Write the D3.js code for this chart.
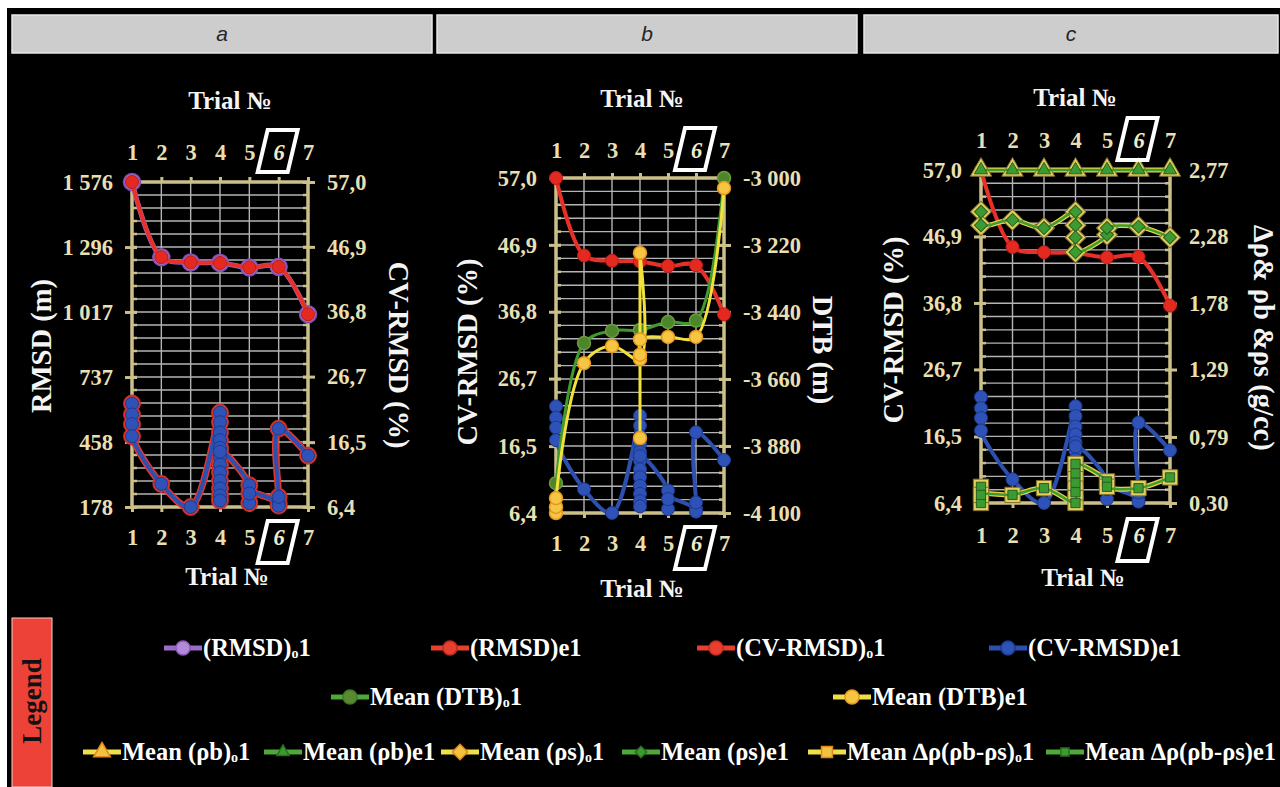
<!DOCTYPE html>
<html>
<head>
<meta charset="utf-8">
<script src="https://cdn.jsdelivr.net/npm/d3@7"></script>
<style>
  html, body { margin: 0; padding: 0; background: #fff; }
  svg { display: block; }
</style>
</head>
<body>
<svg id="chart" width="1280" height="787"></svg>
<script>
// ---------------- data ----------------
const trials = [1, 2, 3, 4, 5, 6, 7];
const highlightTrial = 6;
const panelNames = ["a", "b", "c"];

// axis tick values
const rmsdTicks = [178, 458, 737, 1017, 1296, 1576];
const cvTicks = [6.4, 16.5, 26.7, 36.8, 46.9, 57.0];
const dtbTicks = [-4100, -3880, -3660, -3440, -3220, -3000];
const rhoTicks = [0.30, 0.79, 1.29, 1.78, 2.28, 2.77];

// o1 series: one value per trial
const rmsdO1 = [1576, 1252, 1230, 1228, 1208, 1211, 1007];
const cvO1 = [57.0, 45.3, 44.5, 44.4, 43.7, 43.8, 36.4];
const dtbO1 = [-4002, -3542, -3502, -3499, -3473, -3468, -3000];

// e1 RMSD / CV-RMSD: several runs per trial, in plotting order
const rmsdE1Trials = [1, 1, 1, 1, 2, 3, 4, 4, 4, 4, 4, 4, 4, 4, 4, 4, 4, 4, 4, 5, 5, 5, 6, 6, 6, 6, 7];
const cvE1 = [22.5, 20.8, 19.3, 17.4, 10.0, 6.4, 21.1, 19.6, 18.0, 16.8, 15.6, 14.3, 13.0, 11.8, 10.5, 9.3, 8.2, 7.4, 15.0, 9.8, 7.0, 8.5, 7.0, 6.6, 8.0, 18.6, 14.4];
const rmsdE1 = [623, 576, 534, 482, 277, 178, 584, 543, 498, 465, 432, 396, 360, 327, 291, 258, 228, 206, 416, 272, 195, 236, 195, 184, 222, 515, 399];

// e1 mean depth to basement
const dtbE1Trials = [1, 1, 1, 2, 3, 4, 4, 4, 4, 4, 5, 6, 7];
const dtbE1 = [-4100, -4080, -4051, -3608, -3552, -3595, -3246, -3854, -3580, -3530, -3522, -3522, -3033];

// densities, g/cc
const rhoBO1 = [2.77, 2.77, 2.77, 2.77, 2.77, 2.77, 2.77];
const rhoBE1 = [2.77, 2.77, 2.77, 2.77, 2.77, 2.77, 2.77];
const rhoSTrials = [1, 1, 2, 3, 4, 4, 4, 4, 5, 5, 6, 7];
const rhoSO1 = [2.46, 2.36, 2.40, 2.34, 2.46, 2.36, 2.27, 2.16, 2.29, 2.34, 2.35, 2.27];
const rhoSE1 = [2.46, 2.36, 2.40, 2.34, 2.46, 2.36, 2.27, 2.16, 2.29, 2.34, 2.35, 2.27];
const dRhoTrials = [1, 1, 1, 2, 3, 4, 4, 4, 4, 4, 5, 5, 6, 7];
const dRhoO1 = [0.42, 0.30, 0.36, 0.36, 0.41, 0.30, 0.38, 0.45, 0.52, 0.59, 0.46, 0.42, 0.41, 0.49];
const dRhoE1 = [0.42, 0.30, 0.36, 0.36, 0.41, 0.30, 0.38, 0.45, 0.52, 0.59, 0.46, 0.42, 0.41, 0.49];

// legend entries: [label, subscript, tail]
const legendRows = [
  ["rmsdO1", "rmsdE1", "cvO1", "cvE1"],
  ["dtbO1", "dtbE1"],
  ["rhoBO1", "rhoBE1", "rhoSO1", "rhoSE1", "dRhoO1", "dRhoE1"]
];
const legendLabels = {
  rmsdO1: ["(RMSD)", "o", "1"],
  rmsdE1: ["(RMSD)e1"],
  cvO1: ["(CV-RMSD)", "o", "1"],
  cvE1: ["(CV-RMSD)e1"],
  dtbO1: ["Mean (DTB)", "o", "1"],
  dtbE1: ["Mean (DTB)e1"],
  rhoBO1: ["Mean (ρb)", "o", "1"],
  rhoBE1: ["Mean (ρb)e1"],
  rhoSO1: ["Mean (ρs)", "o", "1"],
  rhoSE1: ["Mean (ρs)e1"],
  dRhoO1: ["Mean ∆ρ(ρb-ρs)", "o", "1"],
  dRhoE1: ["Mean ∆ρ(ρb-ρs)e1"]
};

// ---------------- styles ----------------
const SERIF = "'Liberation Serif','Times New Roman',serif";
const FRAME = "#cbbf8a";
const TICK_TXT = "#e8dfb2";
const GRID = "#b4b4b4";

const styles = {
  rmsdO1: { line: "#9c6cc6", lw: 5, shape: "circle", size: 8.5, fill: "#a06ccc", stroke: "#7d4fae", sw: 1.5 },
  rmsdE1: { line: "#e3372c", lw: 7, shape: "circle", size: 8.5, fill: "#e3372c", stroke: "#c02a20", sw: 1 },
  cvO1:   { line: "#e8302a", lw: 4, shape: "circle", size: 6.5, fill: "#e42a20", stroke: "#c01c14", sw: 1 },
  cvE1:   { line: "#2c4fb0", lw: 4, shape: "circle", size: 6.5, fill: "#2e52b8", stroke: "#1c3a8c", sw: 1 },
  dtbO1:  { line: "#3f9b2e", lw: 3, shape: "circle", size: 6.5, fill: "#4c862c", stroke: "#6e9a3a", sw: 1.5 },
  dtbE1:  { line: "#f1e13a", lw: 3, shape: "circle", size: 6.5, fill: "#f6c544", stroke: "#e5981c", sw: 1.5 },
  rhoBO1: { line: "#e6d24a", lw: 5, shape: "tri", size: 200, fill: "#e2cf5c", stroke: "#7f7030", sw: 1 },
  rhoBE1: { line: "#3f9b2e", lw: 2.5, shape: "tri", size: 75, fill: "#3c9a32", stroke: "#2a5e20", sw: 1 },
  rhoSO1: { line: "#e6d24a", lw: 5, shape: "dia", size: 220, fill: "#e2cf5c", stroke: "#7f7030", sw: 1 },
  rhoSE1: { line: "#3f9b2e", lw: 2.5, shape: "dia", size: 85, fill: "#3c9a32", stroke: "#2a5e20", sw: 1 },
  dRhoO1: { line: "#e6d24a", lw: 5, shape: "sq", size: 235, fill: "#e2cf5c", stroke: "#7f7030", sw: 1 },
  dRhoE1: { line: "#3f9b2e", lw: 2.5, shape: "sq", size: 85, fill: "#3c9a32", stroke: "#2a5e20", sw: 1 }
};
const legendStyles = {
  rmsdO1: { line: "#9c6cc6", fill: "#b48ad8", stroke: "#8a5ab8" },
  rmsdE1: { line: "#e8402e", fill: "#e8402e", stroke: "#c02a20" },
  cvO1:   { line: "#e8402e", fill: "#e8402e", stroke: "#c02a20" },
  cvE1:   { line: "#2c4fb0", fill: "#2e52b8", stroke: "#1c3a8c" },
  dtbO1:  { line: "#4fa83a", fill: "#5a8a30", stroke: "#3c7a28" },
  dtbE1:  { line: "#efe04a", fill: "#f6c544", stroke: "#e5981c" },
  rhoBO1: { line: "#efe04a", fill: "#f3c040", stroke: "#e08a1c" },
  rhoBE1: { line: "#4fa83a", fill: "#3c9a32", stroke: "#2a6e20" },
  rhoSO1: { line: "#efe04a", fill: "#f3c040", stroke: "#e08a1c" },
  rhoSE1: { line: "#4fa83a", fill: "#3c9a32", stroke: "#2a6e20" },
  dRhoO1: { line: "#efe04a", fill: "#f3c040", stroke: "#e08a1c" },
  dRhoE1: { line: "#4fa83a", fill: "#3c9a32", stroke: "#2a6e20" }
};

const loc = d3.formatLocale({ decimal: ",", thousands: " ", grouping: [3], currency: ["", ""], minus: "-" });
const fmtInt = loc.format(",d");
const fmt1 = loc.format(".1f");
const fmt2 = loc.format(".2f");

// ---------------- canvas ----------------
const svg = d3.select("#chart");
svg.append("rect").attr("width", 1280).attr("height", 787).attr("fill", "#fff");
svg.append("rect").attr("x", 7).attr("y", 8).attr("width", 1273).attr("height", 779).attr("fill", "#000");

// panel geometry
const layout = [
  { bar: [12, 432], x0: 132, x1: 308, top: 182, bottom: 507, topPad: 17, botPad: 17,
    leftTitle: "RMSD (m)", leftTitlePos: [41, 346], rightTitle: "CV-RMSD (%)", rightTitlePos: [399, 355],
    trialTop: [230, 100], trialBot: [227, 576] },
  { bar: [437, 857], x0: 556, x1: 724, top: 178, bottom: 513, topPad: 15, botPad: 17,
    leftTitle: "CV-RMSD (%)", leftTitlePos: [467, 352], rightTitle: "DTB (m)", rightTitlePos: [823, 350],
    trialTop: [642, 98], trialBot: [642, 588] },
  { bar: [864, 1278], x0: 981, x1: 1170, top: 170, bottom: 503, topPad: 17, botPad: 19,
    leftTitle: "CV-RMSD (%)", leftTitlePos: [893, 330], rightTitle: "∆ρ& ρb &ρs  (g/cc)", rightTitlePos: [1264, 338],
    trialTop: [1075, 97], trialBot: [1083, 577] }
];

// header bars
layout.forEach((L, i) => {
  svg.append("rect")
    .attr("x", L.bar[0]).attr("y", 15).attr("width", L.bar[1] - L.bar[0]).attr("height", 38)
    .attr("fill", "#cdcdcd").attr("stroke", "#e6e6e6").attr("stroke-width", 1.5);
  svg.append("text")
    .attr("x", (L.bar[0] + L.bar[1]) / 2).attr("y", 41)
    .attr("text-anchor", "middle")
    .attr("font-family", "'Liberation Sans',Arial,sans-serif").attr("font-style", "italic")
    .attr("font-size", 21).attr("fill", "#262626")
    .text(panelNames[i]);
});

function styleAxis(sel) {
  sel.attr("font-family", null).attr("font-size", null);
  sel.select(".domain").remove();
  sel.selectAll(".tick line").attr("stroke", FRAME).attr("stroke-width", 3);
  sel.selectAll(".tick text")
    .attr("fill", TICK_TXT).attr("font-family", SERIF).attr("font-weight", "bold").attr("font-size", 22.5);
}

function titleText(x, y, txt, rot, size) {
  svg.append("text")
    .attr("transform", `translate(${x},${y}) rotate(${rot})`)
    .attr("text-anchor", "middle").attr("dy", "0.35em")
    .attr("font-family", SERIF).attr("font-weight", "bold").attr("font-size", size)
    .attr("fill", "#f4f4f4")
    .text(txt);
}

function markerPath(shape, size) {
  if (shape === "tri") return d3.symbol(d3.symbolTriangle, size)();
  if (shape === "sq" || shape === "dia") return d3.symbol(d3.symbolSquare, size)();
  return null;
}

function drawSeries(g, clipId, x, y, xs, vs, st) {
  const idx = d3.range(vs.length);
  const line = d3.line()
    .x(i => x(xs[i])).y(i => y(vs[i]))
    .curve(d3.curveCatmullRom.alpha(0.5));
  g.append("path")
    .attr("clip-path", `url(#${clipId})`)
    .attr("d", line(idx))
    .attr("fill", "none").attr("stroke", st.line).attr("stroke-width", st.lw)
    .attr("stroke-linejoin", "round").attr("stroke-linecap", "round");
  const m = g.append("g");
  if (st.shape === "circle") {
    m.selectAll("circle").data(idx).join("circle")
      .attr("cx", i => x(xs[i])).attr("cy", i => y(vs[i])).attr("r", st.size)
      .attr("fill", st.fill).attr("stroke", st.stroke).attr("stroke-width", st.sw);
  } else {
    const d = markerPath(st.shape, st.size);
    m.selectAll("path").data(idx).join("path")
      .attr("d", d)
      .attr("transform", i => `translate(${x(xs[i])},${y(vs[i])})` + (st.shape === "dia" ? " rotate(45)" : ""))
      .attr("fill", st.fill).attr("stroke", st.stroke).attr("stroke-width", st.sw);
  }
}

function sixBox(cx, cy) {
  const hw = 15, hh = 21, sk = 5, off = -1;
  const pts = [
    [cx + off - hw - sk, cy + hh], [cx + off + hw - sk, cy + hh],
    [cx + off + hw + sk, cy - hh], [cx + off - hw + sk, cy - hh]
  ];
  svg.append("polygon")
    .attr("points", pts.map(p => p.join(",")).join(" "))
    .attr("fill", "none").attr("stroke", "#fff").attr("stroke-width", 4)
    .attr("stroke-linejoin", "miter");
}

function buildPanel(pi, leftDomain, leftTicks, leftFmt, rightDomain, rightTicks, rightFmt, series) {
  const L = layout[pi];
  const x = d3.scalePoint().domain(trials).range([L.x0, L.x1]);
  const yL = d3.scaleLinear().domain(leftDomain).range([L.bottom, L.top]).clamp(true);
  const yR = d3.scaleLinear().domain(rightDomain).range([L.bottom, L.top]).clamp(true);
  const g = svg.append("g");
  const clipId = "clip" + pi;
  g.append("clipPath").attr("id", clipId).append("rect")
    .attr("x", L.x0 - 4).attr("y", L.top - 4)
    .attr("width", L.x1 - L.x0 + 8).attr("height", L.bottom - L.top + 8);

  // grid: 5 minor steps per major tick interval
  const [d0, d1] = leftDomain;
  const minor = d3.range(1, 25).map(i => d0 + (d1 - d0) * i / 25);
  g.append("g").selectAll("line").data(minor).join("line")
    .attr("x1", L.x0).attr("x2", L.x1).attr("y1", d => yL(d)).attr("y2", d => yL(d))
    .attr("stroke", GRID).attr("stroke-width", 1.4);
  g.append("g").selectAll("line").data(trials.slice(1, -1)).join("line")
    .attr("x1", d => x(d)).attr("x2", d => x(d)).attr("y1", L.top).attr("y2", L.bottom)
    .attr("stroke", GRID).attr("stroke-width", 1.4);

  // minor ticks pointing inward on both side frames
  g.append("g").selectAll("line").data(minor).join("line")
    .attr("x1", L.x0).attr("x2", L.x0 + 5).attr("y1", d => yL(d)).attr("y2", d => yL(d))
    .attr("stroke", FRAME).attr("stroke-width", 2.5);
  g.append("g").selectAll("line").data(minor).join("line")
    .attr("x1", L.x1 - 5).attr("x2", L.x1).attr("y1", d => yL(d)).attr("y2", d => yL(d))
    .attr("stroke", FRAME).attr("stroke-width", 2.5);

  // frame
  g.append("rect")
    .attr("x", L.x0).attr("y", L.top).attr("width", L.x1 - L.x0).attr("height", L.bottom - L.top)
    .attr("fill", "none").attr("stroke", FRAME).attr("stroke-width", 3.5);

  // value axes
  g.append("g").attr("transform", `translate(${L.x0},0)`)
    .call(d3.axisLeft(yL).tickValues(leftTicks).tickFormat(leftFmt).tickSize(7).tickPadding(12))
    .call(styleAxis)
    .call(s => s.selectAll(".tick line").attr("x1", 5));
  g.append("g").attr("transform", `translate(${L.x1},0)`)
    .call(d3.axisRight(yR).tickValues(rightTicks).tickFormat(rightFmt).tickSize(7).tickPadding(12))
    .call(styleAxis)
    .call(s => s.selectAll(".tick line").attr("x1", -5));

  // trial axes, top and bottom
  const top = g.append("g").attr("transform", `translate(0,${L.top})`)
    .call(d3.axisTop(x).tickValues(trials).tickSize(5).tickPadding(L.topPad))
    .call(styleAxis);
  const bot = g.append("g").attr("transform", `translate(0,${L.bottom})`)
    .call(d3.axisBottom(x).tickValues(trials).tickSize(5).tickPadding(L.botPad))
    .call(styleAxis);
  [top, bot].forEach(a => a.selectAll(".tick text")
    .filter(d => d === highlightTrial).attr("font-style", "italic").attr("fill", "#f2ecc8"));
  sixBox(x(highlightTrial), L.top - L.topPad - 5 - 9);
  sixBox(x(highlightTrial), L.bottom + L.botPad + 5 + 13);

  // series
  series.forEach(s => drawSeries(g, clipId, x, s.axis === "R" ? yR : yL, s.xs, s.vs, styles[s.key]));

  // titles
  titleText(L.leftTitlePos[0], L.leftTitlePos[1], L.leftTitle, -90, 28.5);
  titleText(L.rightTitlePos[0], L.rightTitlePos[1], L.rightTitle, 90, 28.5);
  titleText(L.trialTop[0], L.trialTop[1], "Trial №", 0, 25);
  titleText(L.trialBot[0], L.trialBot[1], "Trial №", 0, 25);
}

// panel a: RMSD (left) and CV-RMSD (right)
buildPanel(0, [178, 1576], rmsdTicks, fmtInt, [6.4, 57.0], cvTicks, fmt1, [
  { key: "rmsdE1", axis: "L", xs: rmsdE1Trials, vs: rmsdE1 },
  { key: "cvE1", axis: "R", xs: rmsdE1Trials, vs: cvE1 },
  { key: "rmsdO1", axis: "L", xs: trials, vs: rmsdO1 },
  { key: "cvO1", axis: "R", xs: trials, vs: cvO1 }
]);

// panel b: CV-RMSD (left) and depth to basement (right)
buildPanel(1, [6.4, 57.0], cvTicks, fmt1, [-4100, -3000], dtbTicks, fmtInt, [
  { key: "cvO1", axis: "L", xs: trials, vs: cvO1 },
  { key: "cvE1", axis: "L", xs: rmsdE1Trials, vs: cvE1 },
  { key: "dtbO1", axis: "R", xs: trials, vs: dtbO1 },
  { key: "dtbE1", axis: "R", xs: dtbE1Trials, vs: dtbE1 }
]);

// panel c: CV-RMSD (left) and densities (right)
buildPanel(2, [6.4, 57.0], cvTicks, fmt1, [0.30, 2.77], rhoTicks, fmt2, [
  { key: "cvO1", axis: "L", xs: trials, vs: cvO1 },
  { key: "cvE1", axis: "L", xs: rmsdE1Trials, vs: cvE1 },
  { key: "dRhoO1", axis: "R", xs: dRhoTrials, vs: dRhoO1 },
  { key: "dRhoE1", axis: "R", xs: dRhoTrials, vs: dRhoE1 },
  { key: "rhoSO1", axis: "R", xs: rhoSTrials, vs: rhoSO1 },
  { key: "rhoSE1", axis: "R", xs: rhoSTrials, vs: rhoSE1 },
  { key: "rhoBO1", axis: "R", xs: trials, vs: rhoBO1 },
  { key: "rhoBE1", axis: "R", xs: trials, vs: rhoBE1 }
]);

// ---------------- legend ----------------
svg.append("rect").attr("x", 12).attr("y", 618).attr("width", 40).attr("height", 169)
  .attr("fill", "#ec4237").attr("stroke", "#f3d0cc").attr("stroke-width", 1);
svg.append("text")
  .attr("transform", "translate(32,701) rotate(-90)")
  .attr("text-anchor", "middle").attr("dy", "0.35em")
  .attr("font-family", SERIF).attr("font-weight", "bold").attr("font-size", 27).attr("fill", "#111")
  .text("Legend");

const legendX = [[183, 450, 716, 1008], [350, 852], [102, 283, 460, 641, 827, 1065]];
const legendY = [648, 697, 752];

legendRows.forEach((row, r) => {
  row.forEach((key, c) => {
    const cx = legendX[r][c], cy = legendY[r];
    const ls = legendStyles[key], st = styles[key];
    const g = svg.append("g");
    g.append("line").attr("x1", cx - 19).attr("x2", cx + 19).attr("y1", cy).attr("y2", cy)
      .attr("stroke", ls.line).attr("stroke-width", 5);
    if (st.shape === "circle") {
      g.append("circle").attr("cx", cx).attr("cy", cy).attr("r", 7)
        .attr("fill", ls.fill).attr("stroke", ls.stroke).attr("stroke-width", 1.5);
    } else {
      const big = key.endsWith("O1");
      const area = big ? 120 : 65;
      g.append("path").attr("d", markerPath(st.shape, area))
        .attr("transform", `translate(${cx},${cy})` + (st.shape === "dia" ? " rotate(45)" : ""))
        .attr("fill", ls.fill).attr("stroke", ls.stroke).attr("stroke-width", 1.5);
    }
    const parts = legendLabels[key];
    const t = g.append("text").attr("x", cx + 20).attr("y", cy + 8)
      .attr("font-family", SERIF).attr("font-weight", "bold").attr("font-size", 24.5).attr("fill", "#fff");
    t.append("tspan").text(parts[0]);
    if (parts.length > 1) {
      t.append("tspan").attr("font-size", 14).attr("dy", 2).text(parts[1]);
      t.append("tspan").attr("dy", -2).text(parts[2]);
    }
  });
});
</script>
</body>
</html>
